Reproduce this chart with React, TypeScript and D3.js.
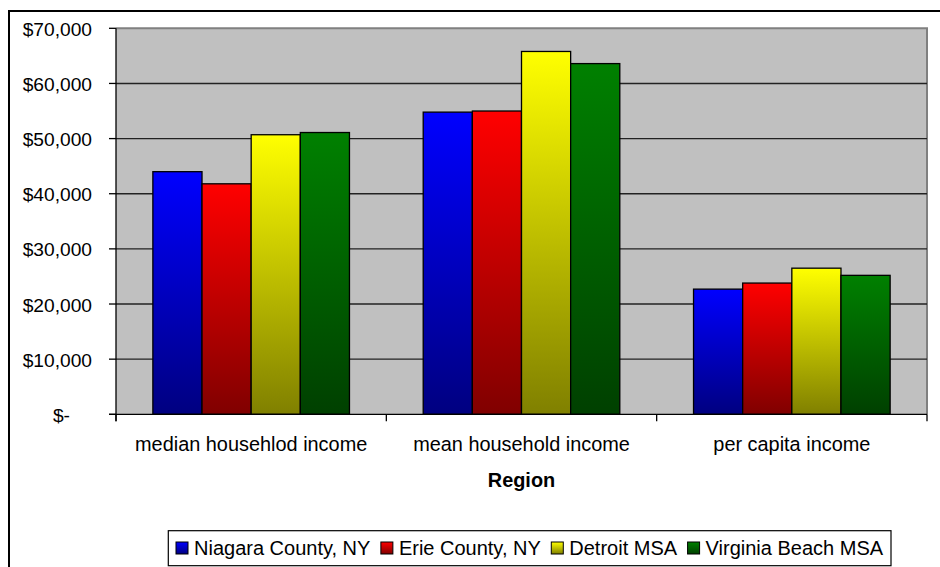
import React from "react";
import * as d3 from "d3";

const categories = ["median househlod income", "mean household income", "per capita income"];
const seriesNames = ["Niagara County, NY", "Erie County, NY", "Detroit MSA", "Virginia Beach MSA"];
const niagara = [44000, 54800, 22700];
const erie = [41800, 55000, 23800];
const detroit = [50700, 65800, 26500];
const virginia = [51100, 63600, 25200];
const yTicks = [0, 10000, 20000, 30000, 40000, 50000, 60000, 70000];
const xTitle = "Region";

const seriesValues = [niagara, erie, detroit, virginia];
const topColors = ["#0000FF", "#FF0000", "#FFFF00", "#008000"];
const bottomColors = ["#000080", "#800000", "#808000", "#004000"];

const W = 940;
const H = 567;
const plotL = 116;
const plotR = 927;
const plotT = 28.3;
const plotB = 414.3;
const FONT = "'Liberation Sans', Arial, sans-serif";

function fmt(v: number) {
  if (v === 0) return "$-";
  return "$" + d3.format(",")(v);
}

function measure(text: string, size: number, weight = "normal") {
  if (typeof document === "undefined") return text.length * size * 0.5;
  const c = document.createElement("canvas");
  const ctx = c.getContext("2d");
  if (!ctx) return text.length * size * 0.5;
  ctx.font = `${weight} ${size}px 'Liberation Sans', Arial, sans-serif`;
  return ctx.measureText(text).width;
}

export default function App() {
  const x0 = d3.scaleBand<string>().domain(categories).range([plotL, plotR]).paddingInner(0).paddingOuter(0);
  const bw = x0.bandwidth();
  const barW = bw / 5.5;
  const x1 = d3
    .scaleBand<string>()
    .domain(seriesNames)
    .range([barW * 0.75, bw - barW * 0.75])
    .padding(0);
  const y = d3.scaleLinear().domain([0, 70000]).range([plotB, plotT]);

  // legend layout
  const legendFont = 20;
  const sw = 12;
  const gapSwText = 6;
  const gapItems = 10.5;
  const widths = seriesNames.map((s) => measure(s, legendFont));
  const itemStarts: number[] = [];
  let cur = 176;
  widths.forEach((w) => {
    itemStarts.push(cur);
    cur += sw + gapSwText + w + gapItems;
  });

  const boundaries = [plotL, ...categories.map((c) => (x0(c) as number) + bw)];

  return (
    <svg
      width={W}
      height={H}
      style={{ position: "absolute", left: 0, top: 0, background: "#fff" }}
      fontFamily={FONT}
    >
      <defs>
        {seriesNames.map((s, i) => (
          <linearGradient key={s} id={`g${i}`} x1="0" y1="0" x2="0" y2="1">
            <stop offset="0" stopColor={topColors[i]} />
            <stop offset="1" stopColor={bottomColors[i]} />
          </linearGradient>
        ))}
      </defs>
      <rect x={0} y={0} width={W} height={H} fill="#fff" />
      {/* outer chart border */}
      <path d={`M9,${H + 10} L9,11 L${W + 10},11`} fill="none" stroke="#000" strokeWidth={2} />

      {/* plot area */}
      <rect x={plotL} y={plotT} width={plotR - plotL} height={plotB - plotT} fill="#C0C0C0" />
      <path
        d={`M${plotL},${plotT} L${plotR},${plotT} L${plotR},${plotB}`}
        fill="none"
        stroke="#808080"
        strokeWidth={2}
      />

      {/* gridlines */}
      {yTicks
        .filter((t) => t > 0 && t < 70000)
        .map((t) => (
          <line key={t} x1={plotL} x2={plotR} y1={y(t)} y2={y(t)} stroke="#222" strokeWidth={1.4} />
        ))}

      {/* bars */}
      {categories.map((c, ci) => (
        <g key={c} transform={`translate(${x0(c)},0)`}>
          {seriesNames.map((s, si) => {
            const v = seriesValues[si][ci];
            return (
              <rect
                key={s}
                x={x1(s)}
                y={y(v)}
                width={x1.bandwidth()}
                height={y(0) - y(v)}
                fill={`url(#g${si})`}
                stroke="#000"
                strokeWidth={1.3}
              />
            );
          })}
        </g>
      ))}

      {/* y axis */}
      <line x1={plotL} x2={plotL} y1={plotT} y2={plotB + 7} stroke="#000" strokeWidth={1.3} />
      {yTicks.map((t) => (
        <g key={t}>
          <line x1={plotL - 7} x2={plotL} y1={y(t)} y2={y(t)} stroke="#000" strokeWidth={1.3} />
          <text
            x={t === 0 ? 70 : 92}
            y={y(t) + 7.5}
            textAnchor="end"
            fontSize={19.2}
            fill="#000"
          >
            {fmt(t)}
          </text>
        </g>
      ))}

      {/* x axis */}
      <line x1={plotL - 7} x2={plotR} y1={plotB} y2={plotB} stroke="#000" strokeWidth={1.3} />
      {boundaries.map((b, i) => (
        <line key={i} x1={b} x2={b} y1={plotB} y2={plotB + 7} stroke="#000" strokeWidth={1.3} />
      ))}
      {categories.map((c) => (
        <text
          key={c}
          x={(x0(c) as number) + bw / 2}
          y={451}
          textAnchor="middle"
          fontSize={19.9}
          fill="#000"
        >
          {c}
        </text>
      ))}
      <text
        x={(plotL + plotR) / 2}
        y={487}
        textAnchor="middle"
        fontSize={19.9}
        fontWeight="bold"
        fill="#000"
      >
        {xTitle}
      </text>

      {/* legend */}
      <rect x={168.3} y={530.7} width={891 - 168.3} height={35} fill="#fff" stroke="#000" strokeWidth={1.2} />
      {seriesNames.map((s, i) => (
        <g key={s}>
          <rect
            x={itemStarts[i]}
            y={542}
            width={sw}
            height={sw}
            fill={`url(#g${i})`}
            stroke="#000"
            strokeWidth={1}
          />
          <text x={itemStarts[i] + sw + gapSwText} y={555} fontSize={legendFont} fill="#000">
            {s}
          </text>
        </g>
      ))}
    </svg>
  );
}
